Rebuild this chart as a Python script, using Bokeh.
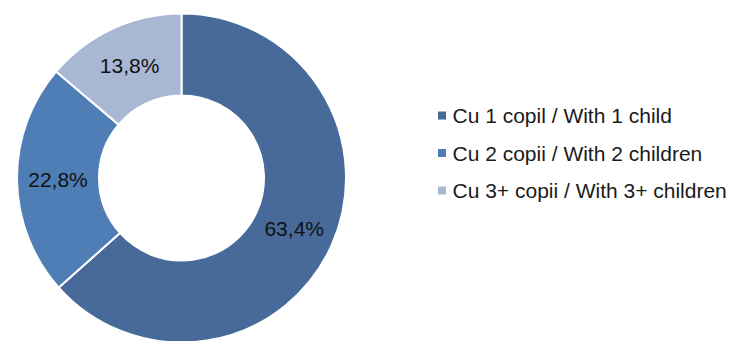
import numpy as np
from bokeh.plotting import figure
from bokeh.models import ColumnDataSource, Range1d
from bokeh.core.properties import value
from bokeh.embed import file_html
from bokeh.resources import INLINE

# ---- data ----
categories = ["Cu 1 copil / With 1 child",
              "Cu 2 copii / With 2 children",
              "Cu 3+ copii / With 3+ children"]
shares = [63.4, 22.8, 13.8]
labels = ["63,4%", "22,8%", "13,8%"]
colors = ["#476A9A", "#4F7DB5", "#A8B7D4"]

# ---- layout ----
W, H = 733, 341
cx, cy = 181.0, H - 177.5
r_out, r_in = 164.5, 82.5
FONT = "Liberation Sans"

frac = np.array(shares) / np.sum(shares)
cum_after = np.cumsum(frac)
cum_before = cum_after - frac
start = np.pi / 2 - 2 * np.pi * cum_before
end = np.pi / 2 - 2 * np.pi * cum_after
mid = (start + end) / 2
r_mid = (r_out + r_in) / 2

src = ColumnDataSource(dict(
    cat=categories, share=shares, label=labels, color=colors,
    start=start, end=end,
    lx=cx + r_mid * np.cos(mid), ly=cy + r_mid * np.sin(mid),
))

p = figure(width=W, height=H, output_backend="svg", toolbar_location=None,
           x_range=Range1d(0, W), y_range=Range1d(0, H),
           min_border=0, outline_line_color=None)
p.axis.visible = False
p.grid.visible = False
p.background_fill_color = "white"
p.border_fill_color = "white"

p.annular_wedge(x=cx, y=cy, inner_radius=r_in, outer_radius=r_out,
                start_angle="start", end_angle="end", direction="clock",
                fill_color="color", line_color="white", line_width=2,
                source=src)

p.text(x="lx", y="ly", text="label", source=src,
       text_font=value(FONT), text_font_size="21px", text_color="#111111",
       text_align="center", text_baseline="middle")

# legend (manual)
n = len(categories)
leg = ColumnDataSource(dict(
    cat=categories, color=colors,
    y=[H - 115 - 37.5 * i for i in range(n)],
    x=[441.5] * n, tx=[452] * n,
))
p.scatter(x="x", y="y", marker="square", size=8, fill_color="color",
          line_color=None, source=leg)
p.text(x="tx", y="y", text="cat", source=leg,
       text_font=value(FONT), text_font_size="21px", text_color="#1a1a1a",
       text_align="left", text_baseline="middle")

open("out.html", "w").write(file_html(p, INLINE))
